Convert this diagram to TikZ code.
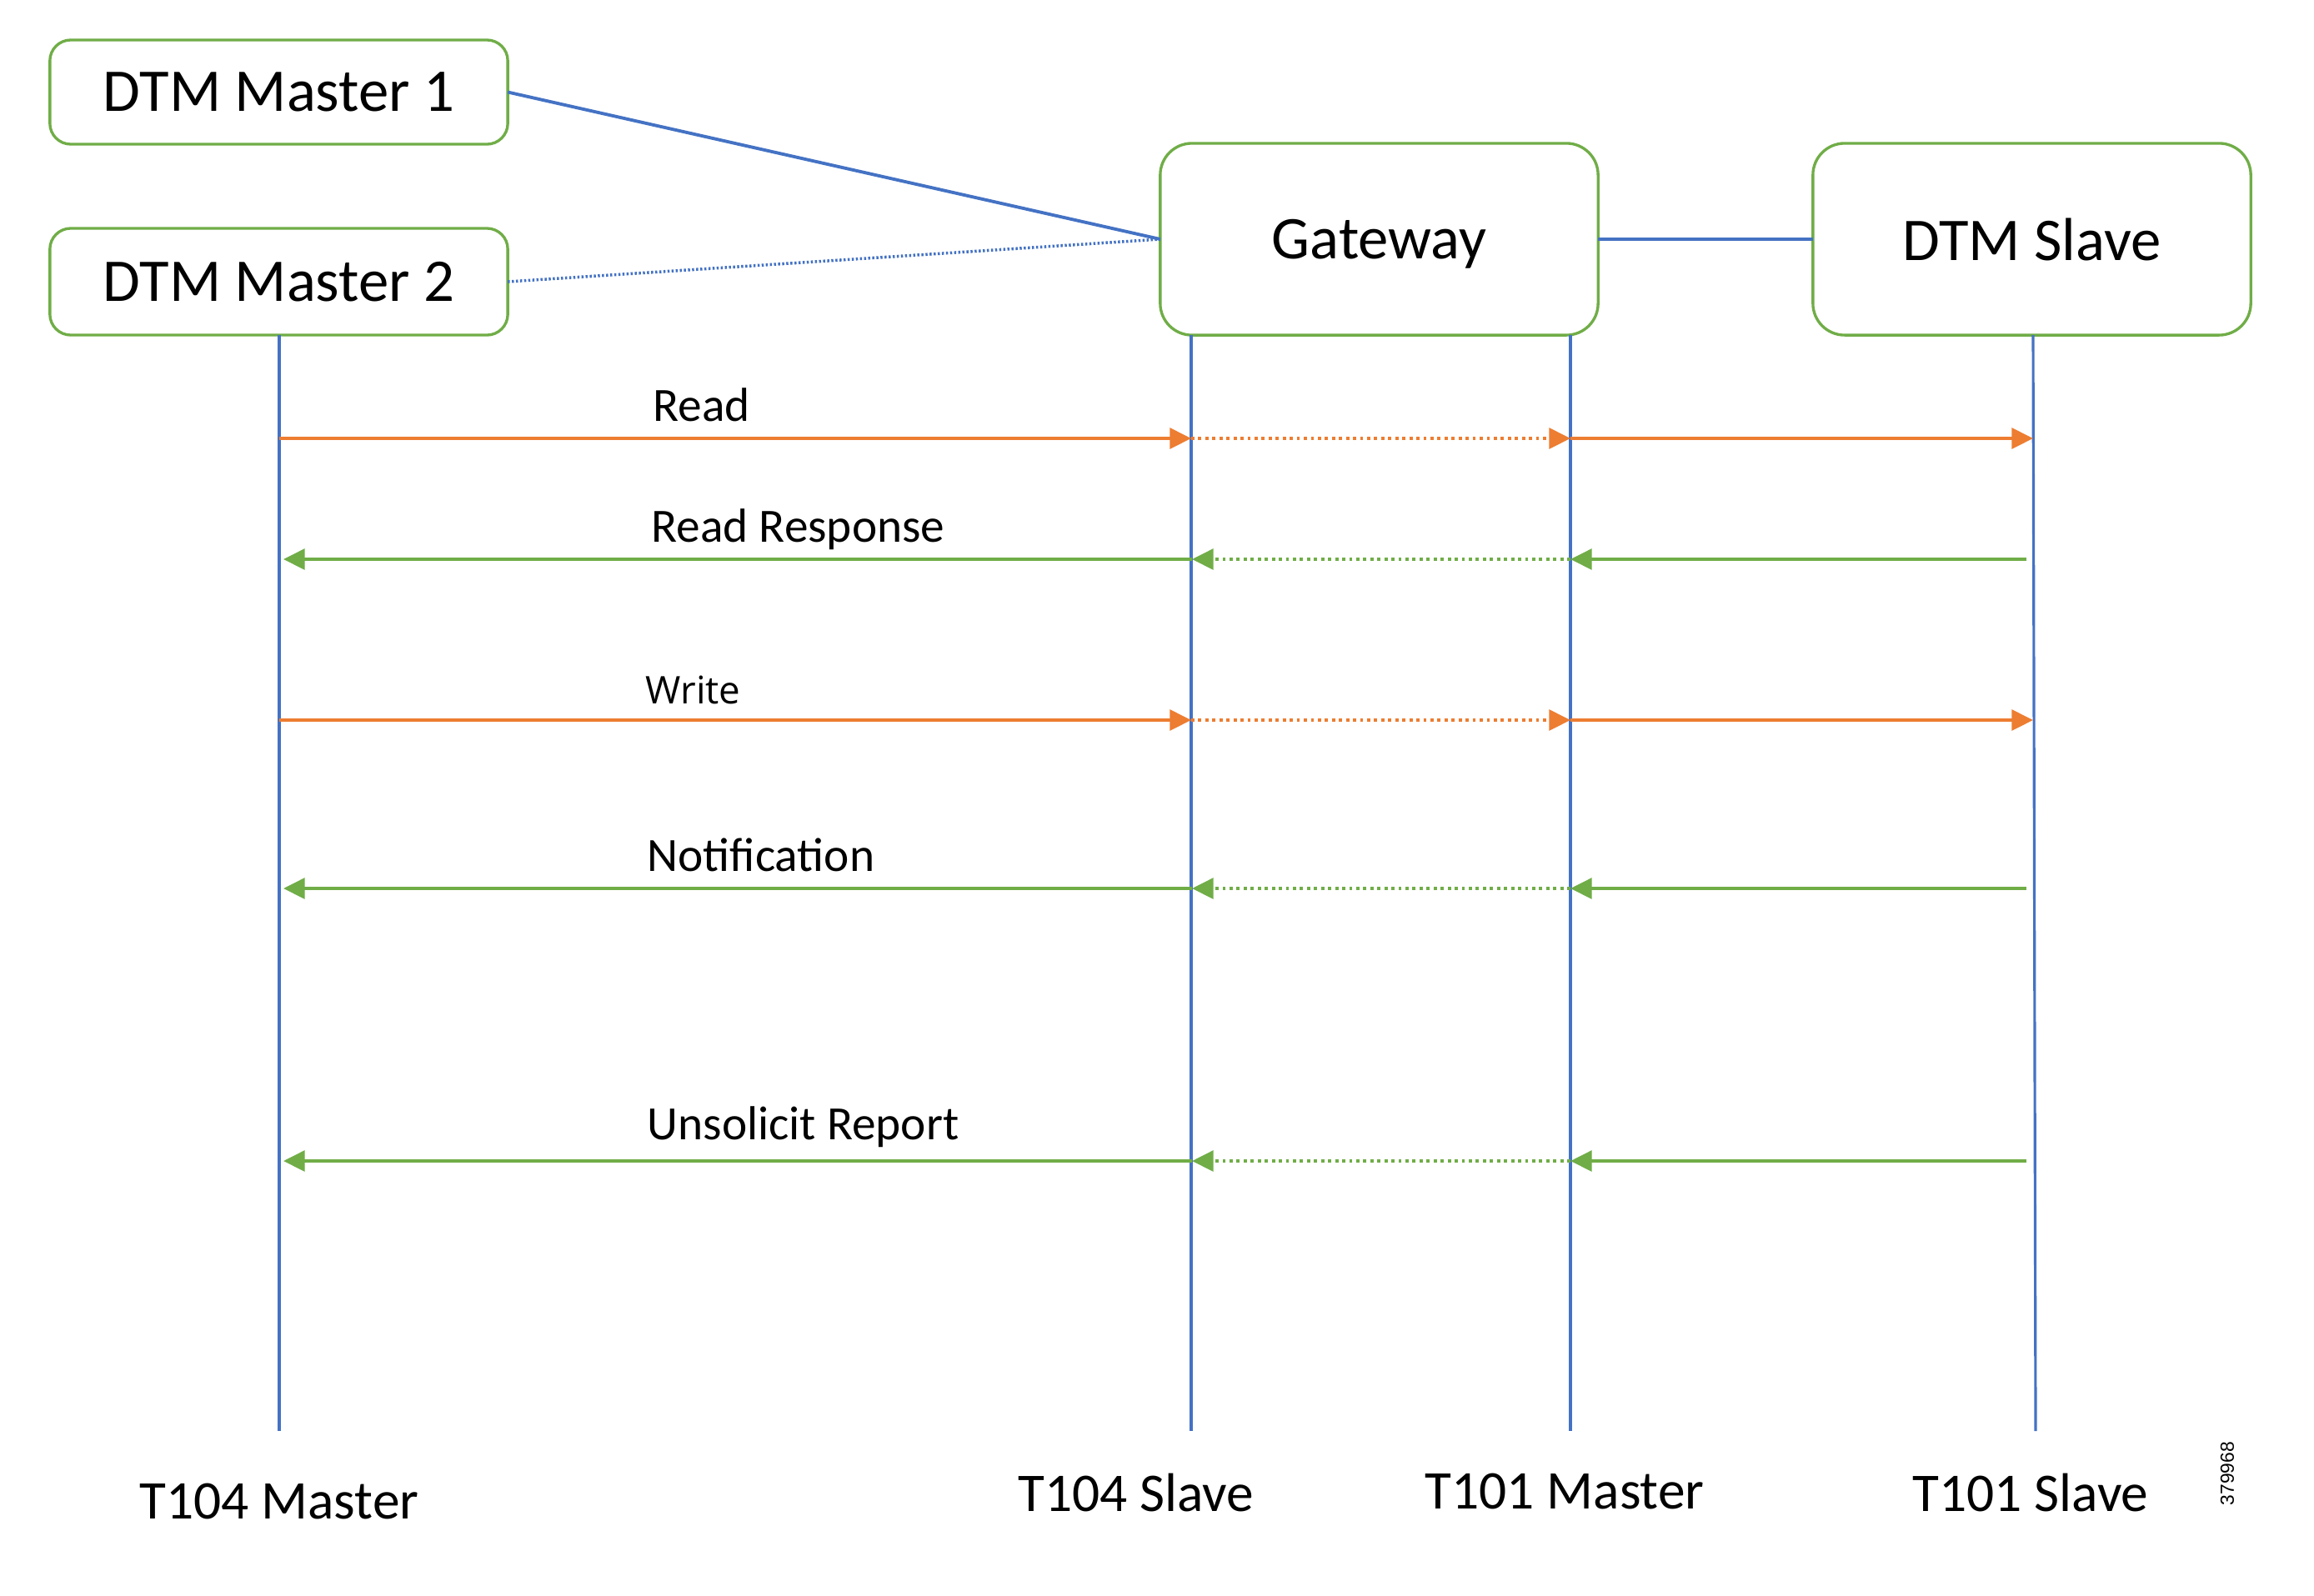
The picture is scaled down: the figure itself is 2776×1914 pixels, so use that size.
\documentclass[tikz,border=0pt]{standalone}
\usepackage{fontspec}
\setmainfont{Carlito}
\newfontfamily\osans{Open Sans}
\newfontfamily\lsans{Liberation Sans}
\usetikzlibrary{arrows.meta}
\definecolor{grn}{HTML}{70AD47}
\definecolor{org}{HTML}{ED7D31}
\definecolor{blu}{HTML}{4472C4}
\tikzset{
  box/.style={draw=grn, line width=0.95pt, fill=white, inner sep=0pt, outer sep=0pt,
    font=\fontsize{20.7}{24}\selectfont, text depth=0pt},
  life/.style={draw=blu, line width=0.9pt},
  link/.style={draw=blu, line width=1.1pt},
  msgtip/.style={-{Triangle[length=7.3pt,width=7pt]}},
  req/.style={draw=org, line width=1.2pt, msgtip},
  rsp/.style={draw=grn, line width=1.2pt, msgtip},
  dotline/.style={dash pattern=on 1.1pt off 1.3pt},
  lbl/.style={anchor=base west, inner sep=0pt, font=\fontsize{16.3}{19}\selectfont},
  foot/.style={anchor=base, inner sep=0pt, font=\fontsize{18.6}{22}\selectfont}
}
\begin{document}
\begin{tikzpicture}[x=0.01cm,y=-0.01cm]
\useasboundingbox[fill=white] (0,0) rectangle (2776,1914);

% boxes
\node[box, rounded corners=0.25cm, minimum width=5.49cm, minimum height=1.25cm] (dm1) at (334.5,110.5) {DTM Master 1};
\node[box, rounded corners=0.25cm, minimum width=5.49cm, minimum height=1.28cm] (dm2) at (334.5,338) {DTM Master 2};
\node[box, rounded corners=0.38cm, minimum width=5.25cm, minimum height=2.30cm] (gw) at (1654.5,287) {Gateway};
\node[box, rounded corners=0.38cm, minimum width=5.25cm, minimum height=2.30cm] (ds) at (2437.5,287) {DTM Slave};

% links between boxes
\draw[link] (dm1.east) -- (gw.west);
\draw[link, line width=1pt, dash pattern=on 0.7pt off 0.7pt] (dm2.east) -- (gw.west);
\draw[link, line width=1.4pt] (gw.east) -- (ds.west);

% lifelines
\coordinate (l1t) at (335,402);  \coordinate (l1b) at (335,1717);
\coordinate (l2t) at (1429,402); \coordinate (l2b) at (1429,1717);
\coordinate (l3t) at (1884,402); \coordinate (l3b) at (1884,1717);
\coordinate (l4t) at (2439,402); \coordinate (l4b) at (2442,1717);
\draw[life] (l1t) -- (l1b);
\draw[life] (l2t) -- (l2b);
\draw[life] (l3t) -- (l3b);
\draw[life] (l4t) -- (l4b);

% requests (orange)
\foreach \n/\y in {rd/526, wr/864}{
  \coordinate (\n1) at (335,\y);
  \coordinate (\n2) at (1429,\y);
  \coordinate (\n3) at (1884,\y);
  \coordinate (\n4) at (2439,\y);
  \draw[req] (\n1) -- (\n2);
  \draw[req, dotline] (\n2) -- (\n3);
  \draw[req] (\n3) -- (\n4);
}

% responses (green)
\foreach \n/\y in {rr/671, nt/1066, ur/1393}{
  \coordinate (\n1) at (340,\y);
  \coordinate (\n2) at (1430,\y);
  \coordinate (\n3) at (1884,\y);
  \coordinate (\n4) at (2431,\y);
  \draw[rsp] (\n4) -- (\n3);
  \draw[rsp, dotline] (\n3) -- (\n2);
  \draw[rsp] (\n2) -- (\n1);
}

% message labels
\node[lbl] (trd) at (783,505) {Read};
\node[lbl] (trr) at (781,650) {Read Response};
\node[lbl, font=\osans\fontsize{13}{16}\selectfont] (twr) at (774,844) {Write};
\node[lbl] (tnt) at (776,1045) {Notification};
\node[lbl] (tur) at (776,1367) {Unsolicit Report};

% lifeline names
\node[foot] (f1) at (335,1822) {T104 Master};
\node[foot] (f2) at (1363,1813) {T104 Slave};
\node[foot] (f3) at (1877,1810) {T101 Master};
\node[foot] (f4) at (2436,1813) {T101 Slave};

% figure number
\node[rotate=90, inner sep=0pt, font=\lsans\fontsize{6.5}{8}\selectfont] (fig) at (2672,1768) {379968};
\end{tikzpicture}
\end{document}
